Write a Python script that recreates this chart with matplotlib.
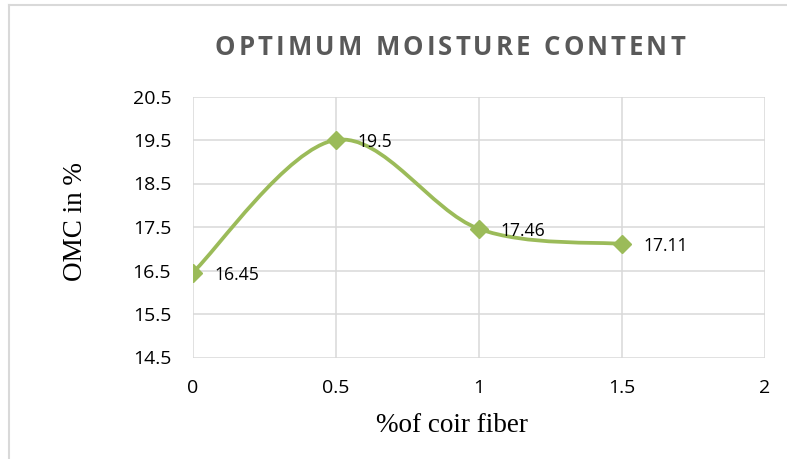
import numpy as np
import matplotlib
matplotlib.use("Agg")
import matplotlib.pyplot as plt
from matplotlib.path import Path
from matplotlib.patches import PathPatch
from matplotlib.lines import Line2D

# ---- data ----
fiber = [0, 0.5, 1, 1.5]
omc = [16.45, 19.5, 17.46, 17.11]
labels = ["16.45", "19.5", "17.46", "17.11"]
xticks = [0, 0.5, 1, 1.5, 2]
yticks = [14.5, 15.5, 16.5, 17.5, 18.5, 19.5, 20.5]
title = "OPTIMUM MOISTURE CONTENT"
xlabel = "%of coir fiber"
ylabel = "OMC in %"

GREEN = "#9BBB59"
GRID = "#D9D9D9"

W, H = 787, 459
fig = plt.figure(figsize=(W / 100, H / 100), dpi=100)

def fx(px):
    return px / W

def fy(py):
    return 1 - py / H

# chart border
fig.add_artist(Line2D([fx(8.5), fx(787)], [fy(4.5), fy(4.5)], color=GRID, lw=1.5))
fig.add_artist(Line2D([fx(8.5), fx(8.5)], [fy(4.5), fy(459)], color=GRID, lw=1.5))

left, right, top, bottom = 192.7, 764.5, 96.5, 357.5
ax = fig.add_axes([fx(left), fy(bottom), (right - left) / W, (bottom - top) / H])
ax.set_xlim(0, 2)
ax.set_ylim(14.5, 20.5)
ax.set_xticks(xticks)
ax.set_yticks(yticks)
ax.set_xticklabels([f"{v:g}" for v in xticks])
ax.set_yticklabels([f"{v:g}" for v in yticks])
for s in ax.spines.values():
    s.set_visible(False)
ax.grid(True, color=GRID, lw=1.1)
ax.set_axisbelow(True)
ax.tick_params(length=0, labelsize=14, labelcolor="#000000")
ax.tick_params(axis="y", pad=15.5)
ax.tick_params(axis="x", pad=15.5)
for t in ax.get_xticklabels() + ax.get_yticklabels():
    t.set_fontfamily("Open Sans")

# Excel-like smoothed curve (Catmull-Rom Bezier)
P = np.column_stack([fiber, omc]).astype(float)
n = len(P)
verts = [tuple(P[0])]
codes = [Path.MOVETO]
for i in range(n - 1):
    p0 = P[i - 1] if i > 0 else P[i]
    p1 = P[i]
    p2 = P[i + 1]
    p3 = P[i + 2] if i + 2 < n else P[i + 1]
    c1 = p1 + (p2 - p0) / 6.0
    c2 = p2 - (p3 - p1) / 6.0
    verts += [tuple(c1), tuple(c2), tuple(p2)]
    codes += [Path.CURVE4] * 3
ax.add_patch(PathPatch(Path(verts, codes), fill=False, edgecolor=GREEN, lw=2.7,
                       capstyle="round", joinstyle="round", zorder=3))
ax.plot(fiber, omc, linestyle="none", marker="D", markersize=9.5, color=GREEN,
        markeredgecolor=GREEN, zorder=4)

for xv, yv, lab in zip(fiber, omc, labels):
    ax.annotate(lab, (xv, yv), xytext=(15.5, -1.5), textcoords="offset points",
                ha="left", va="center", fontsize=12.7, color="#000000",
                fontfamily="Open Sans", zorder=5)

# title with letter spacing, fitted to the reference width
fig.canvas.draw()
renderer = fig.canvas.get_renderer()
tsize = 18.5
target_w = 470.0
widths = []
for ch in title:
    t = fig.text(0, 0, ch if ch != " " else "n", fontsize=tsize, fontweight="bold",
                 fontfamily="Open Sans")
    w = t.get_window_extent(renderer).width
    if ch == " ":
        w *= 0.45
    widths.append(w)
    t.remove()
spacing = max(0.0, (target_w - sum(widths)) / (len(title) - 1))
total = sum(widths) + spacing * (len(title) - 1)
cx = 450
x0 = cx - total / 2
for ch, w in zip(title, widths):
    if ch != " ":
        fig.text(fx(x0), fy(47.5), ch, fontsize=tsize, fontweight="bold",
                 fontfamily="Open Sans", color="#595959", ha="left", va="center")
    x0 += w + spacing

fig.text(fx(452), fy(425), xlabel, ha="center", va="center", fontsize=19.5,
         fontfamily="Liberation Serif", color="#000000")
fig.text(fx(76), fy(222), ylabel, ha="center", va="center", rotation=90,
         fontsize=19.5, fontfamily="Liberation Serif", color="#000000")

fig.savefig("out.png", dpi=100, facecolor="white")
